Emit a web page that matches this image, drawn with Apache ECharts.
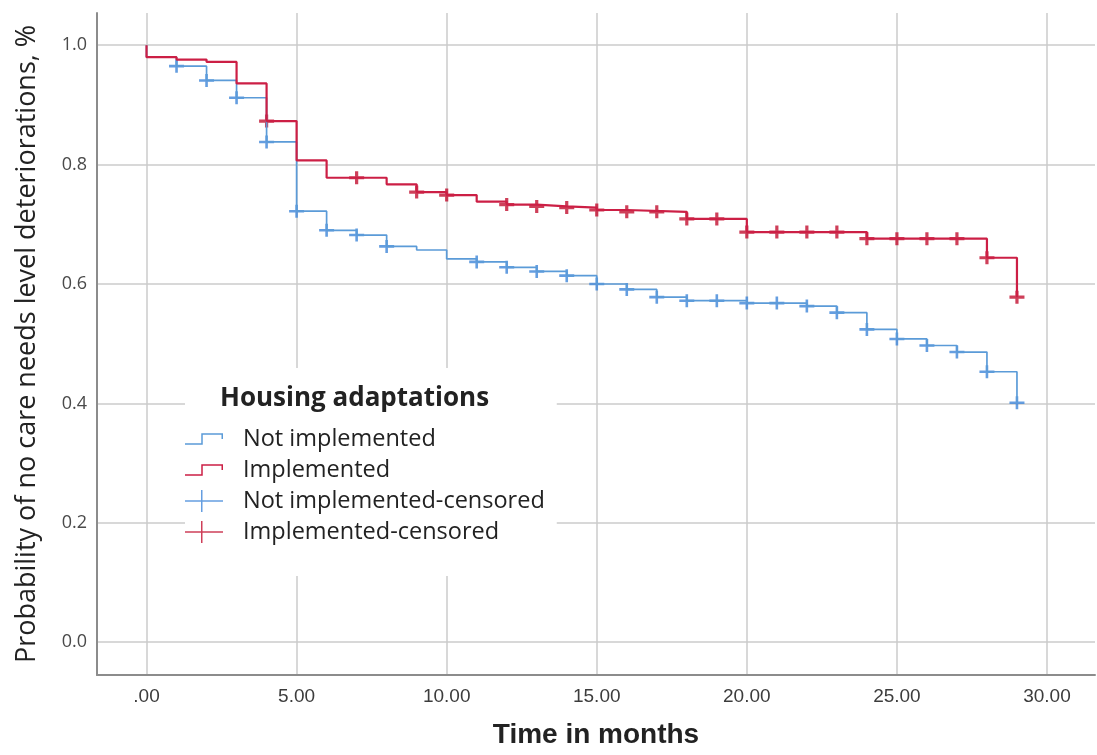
<!DOCTYPE html>
<html>
<head>
	<meta charset="utf-8" />
	<title>Housing adaptations</title>
	<script src="https://cdn.jsdelivr.net/npm/echarts@6/dist/echarts.min.js"></script>
	<style>
		html, body { margin: 0; padding: 0; background: #fff; }
		#chartmain { width: 1097px; height: 755px; }
	</style>
</head>
<body>
	<div id="chartmain"></div>
<script type="text/javascript">
	// tick positions
	var xTicks = [0, 5, 10, 15, 20, 25, 30];
	var yTicks = [0, 0.2, 0.4, 0.6, 0.8, 1.0];

	// Not implemented - step curve (month, survival)
	var notImplTime = [0, 0, 1, 2, 3, 4, 5, 6, 7, 8, 9, 10, 11, 12, 13, 14, 15, 16, 17, 18, 20, 22, 23, 24, 25, 26, 27, 28, 29];
	var notImplSurv = [1.0, 0.980, 0.965, 0.941, 0.912, 0.838, 0.722, 0.690, 0.682, 0.663, 0.657, 0.642, 0.637, 0.628, 0.621, 0.614, 0.600, 0.591, 0.578, 0.572, 0.568, 0.563, 0.552, 0.524, 0.508, 0.497, 0.486, 0.453, 0.401];
	var notImplCensor = [1, 2, 3, 4, 5, 6, 7, 8, 11, 12, 13, 14, 15, 16, 17, 18, 19, 20, 21, 22, 23, 24, 25, 26, 27, 28, 29];

	// Implemented - step curve
	var implTime = [0, 0, 1, 2, 3, 4, 5, 6, 8, 9, 10, 11, 12, 13, 14, 15, 16, 18, 20, 24, 28, 29];
	var implSurv = [1.0, 0.980, 0.976, 0.972, 0.936, 0.873, 0.807, 0.778, 0.767, 0.754, 0.749, 0.738, 0.733, 0.730, 0.728, 0.724, 0.721, 0.709, 0.687, 0.676, 0.644, 0.578];
	var implCensor = [4, 7, 9, 10, 12, 13, 14, 15, 16, 17, 18, 19, 20, 21, 22, 23, 24, 25, 26, 27, 28, 29];

	var blueLine = '#5b9bd8', blueMark = '#3f86d8';
	var redLine = '#cc1f45', redMark = '#c20f30';

	// step value at time t (last point with time <= t)
	function survAt(times, surv, t) {
		var v = surv[0];
		for (var i = 0; i < times.length; i++) {
			if (times[i] <= t) v = surv[i];
		}
		return v;
	}
	function pairs(times, surv) {
		return times.map(function (t, i) { return [t, surv[i]]; });
	}
	function censorPts(cens, times, surv) {
		return cens.map(function (t) { return [t, survAt(times, surv, t)]; });
	}

	// legend glyphs, trailing moves fix the box size
	var stepIcon = 'path://M0,15.25H16.25V5.25H38V11H36.5V6.75H17.75V16.75H0Z M0,0 M53,22';
	var plusIcon = 'path://M0,10.25H16V0H17.5V10.25H38V11.75H17.5V22H16V11.75H0Z M0,0 M53,22';
	var plusBold = 'path://M0,4.9H5.9V0H9.1V4.9H15V8.1H9.1V13H5.9V8.1H0Z';
	var plusThin = 'path://M0,5.2H6.2V0H8.8V5.2H15V7.8H8.8V13H6.2V7.8H0Z';

	var myChart = echarts.init(document.getElementById('chartmain'));
	var option = {
		animation: false,
		backgroundColor: '#fff',
		title: {
			text: 'Housing adaptations',
			left: 220,
			top: 386,
			padding: 0,
			z: 8,
			textStyle: { fontFamily: 'Open Sans', fontWeight: 'bold', fontSize: 26, color: '#222' }
		},
		legend: {
			orient: 'vertical',
			left: 185,
			top: 368,
			padding: [59, 12, 32, 0],
			itemWidth: 53,
			itemHeight: 22,
			itemGap: 7,
			backgroundColor: '#fff',
			selectedMode: false,
			z: 5,
			itemStyle: { borderWidth: 0 },
			textStyle: { fontFamily: 'Open Sans', fontSize: 23.5, color: '#222', padding: 0 },
			data: [
				{ name: 'Not implemented', icon: stepIcon },
				{ name: 'Implemented', icon: stepIcon },
				{ name: 'Not implemented-censored', icon: plusIcon },
				{ name: 'Implemented-censored', icon: plusIcon }
			]
		},
		grid: { left: 97, right: 2, top: 13, bottom: 80, outerBoundsMode: 'none' },
		xAxis: {
			type: 'value',
			min: -1.65,
			max: 31.6,
			name: 'Time in months',
			nameLocation: 'middle',
			nameGap: 46,
			nameTextStyle: { fontFamily: 'Liberation Sans', fontWeight: 'bold', fontSize: 28, color: '#222' },
			axisLine: { show: true, onZero: false, lineStyle: { color: '#8c8c8c', width: 2 } },
			axisTick: { show: false, customValues: xTicks },
			axisLabel: {
				customValues: xTicks,
				margin: 12,
				fontFamily: 'Liberation Sans',
				fontSize: 19,
				color: '#3c3c3c',
				formatter: function (v) { return v === 0 ? '.00' : v.toFixed(2); }
			},
			splitLine: { show: true, lineStyle: { color: '#cbcbcb', width: 1.5 } }
		},
		yAxis: {
			type: 'value',
			min: -0.055,
			max: 1.054,
			name: 'Probability of no care needs level deteriorations, %',
			nameLocation: 'middle',
			nameGap: 56,
			nameTextStyle: { fontFamily: 'Open Sans', fontSize: 27, color: '#222' },
			axisLine: { show: true, onZero: false, lineStyle: { color: '#8c8c8c', width: 2 } },
			axisTick: { show: false, customValues: yTicks },
			axisLabel: {
				customValues: yTicks,
				margin: 10,
				fontFamily: 'Open Sans',
				fontSize: 18,
				color: '#4a4a4a',
				formatter: function (v) { return v.toFixed(1); }
			},
			splitLine: { show: true, lineStyle: { color: '#cbcbcb', width: 1.5 } }
		},
		series: [
			{
				name: 'Not implemented',
				type: 'line',
				step: 'end',
				color: blueLine,
				showSymbol: false,
				lineStyle: { width: 1.7, color: blueLine },
				data: pairs(notImplTime, notImplSurv)
			},
			{
				name: 'Implemented',
				type: 'line',
				step: 'end',
				color: redLine,
				showSymbol: false,
				lineStyle: { width: 2.2, color: redLine },
				data: pairs(implTime, implSurv)
			},
			{
				name: 'Not implemented-censored',
				type: 'scatter',
				color: blueMark,
				symbol: plusThin,
				symbolSize: [15, 13],
				data: censorPts(notImplCensor, notImplTime, notImplSurv)
			},
			{
				name: 'Implemented-censored',
				type: 'scatter',
				color: redMark,
				symbol: plusBold,
				symbolSize: [15, 13],
				data: censorPts(implCensor, implTime, implSurv)
			}
		]
	};
	myChart.setOption(option);
</script>
</body>
</html>
